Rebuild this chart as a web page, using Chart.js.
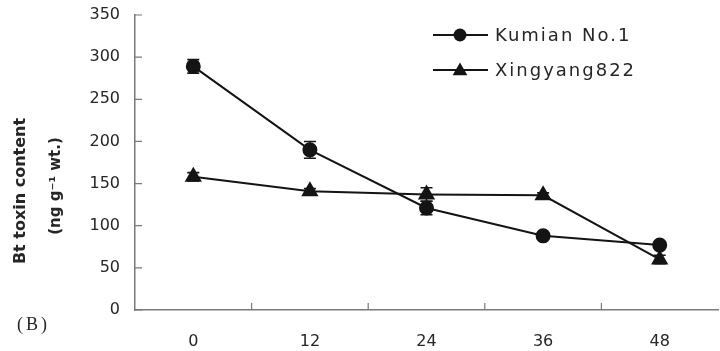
<!DOCTYPE html>
<html>
<head>
<meta charset="utf-8">
<script src="https://cdn.jsdelivr.net/npm/chart.js@4.4.0/dist/chart.umd.min.js"></script>
<style>
  html, body { margin: 0; padding: 0; background: #fff; overflow: hidden; }
  #wrap { position: relative; width: 728px; height: 351px; }
</style>
</head>
<body>
<div id="wrap"><canvas id="chart"></canvas></div>
<script>
// data
const hours = ['0', '12', '24', '36', '48'];
const kumian = [289, 190, 121, 88, 77];
const kumianErr = [8, 10, 8, 3, 3];
const xingyang = [158, 141, 137, 136, 60];
const xingyangErr = [5, 3, 8, 3, 5];
const seriesNames = ['Kumian No.1', 'Xingyang822'];
const yTitle = ['Bt toxin content', '(ng g\u207B\u00B9 wt.)'];
const errors = [kumianErr, xingyangErr];

const ink = '#141414';
const axisGray = '#7a7a7a';
const textGray = '#262626';

// short tick marks that point into the plot
const inwardTicks = {
  id: 'inwardTicks',
  afterDraw(chart) {
    const { ctx, chartArea, scales } = chart;
    ctx.save();
    ctx.strokeStyle = axisGray;
    ctx.lineWidth = 1.2;
    ctx.beginPath();
    scales.y.ticks.forEach(t => {
      const y = scales.y.getPixelForValue(t.value);
      ctx.moveTo(chartArea.left, y);
      ctx.lineTo(chartArea.left + 7, y);
    });
    for (let i = 0; i < hours.length - 1; i++) {
      const x = (scales.x.getPixelForValue(i) + scales.x.getPixelForValue(i + 1)) / 2;
      ctx.moveTo(x, chartArea.bottom);
      ctx.lineTo(x, chartArea.bottom - 7);
    }
    ctx.stroke();
    ctx.restore();
  }
};

const errorBars = {
  id: 'errorBars',
  afterDatasetsDraw(chart) {
    const { ctx, scales } = chart;
    ctx.save();
    ctx.strokeStyle = ink;
    ctx.lineWidth = 1.6;
    chart.data.datasets.forEach((ds, di) => {
      ds.data.forEach((v, i) => {
        const e = errors[di][i];
        const x = scales.x.getPixelForValue(i);
        const yt = scales.y.getPixelForValue(v + e);
        const yb = scales.y.getPixelForValue(v - e);
        ctx.beginPath();
        ctx.moveTo(x, yt); ctx.lineTo(x, yb);
        ctx.moveTo(x - 6, yt); ctx.lineTo(x + 6, yt);
        ctx.moveTo(x - 6, yb); ctx.lineTo(x + 6, yb);
        ctx.stroke();
      });
    });
    ctx.restore();
  }
};

function marker(ctx, style, x, y, r) {
  ctx.beginPath();
  if (style === 'triangle') {
    let rad = 0;
    for (let k = 0; k < 3; k++) {
      const px = x + Math.sin(rad) * r, py = y - Math.cos(rad) * r;
      if (k === 0) ctx.moveTo(px, py); else ctx.lineTo(px, py);
      rad += 2 * Math.PI / 3;
    }
    ctx.closePath();
  } else {
    ctx.arc(x, y, r, 0, Math.PI * 2);
  }
  ctx.fill();
}

// legend sits inside the plot, top right
const insideLegend = {
  id: 'insideLegend',
  afterDraw(chart) {
    const { ctx } = chart;
    ctx.save();
    chart.data.datasets.forEach((ds, i) => {
      const y = 35 + i * 35;
      ctx.strokeStyle = ink;
      ctx.lineWidth = 2;
      ctx.beginPath();
      ctx.moveTo(433, y); ctx.lineTo(488, y);
      ctx.stroke();
      ctx.fillStyle = ink;
      const tri = ds.pointStyle === 'triangle';
      marker(ctx, ds.pointStyle, 460, tri ? y + 1 : y, tri ? 8.5 : 6.5);
      ctx.fillStyle = textGray;
      ctx.font = '18px "DejaVu Sans"';
      ctx.letterSpacing = '2px';
      ctx.textBaseline = 'middle';
      ctx.textAlign = 'left';
      ctx.fillText(ds.label, 495, y + 1);
    });
    ctx.restore();
  }
};

// "(B)" panel tag and the two-line y title
const sideText = {
  id: 'sideText',
  afterDraw(chart) {
    const { ctx } = chart;
    ctx.save();
    ctx.fillStyle = textGray;
    ctx.font = '18px "Liberation Serif"';
    ctx.letterSpacing = '3px';
    ctx.textBaseline = 'middle';
    ctx.textAlign = 'left';
    ctx.fillText('(B)', 17, 325);
    ctx.letterSpacing = '0px';
    ctx.textAlign = 'center';
    ctx.translate(21, 191);
    ctx.rotate(-Math.PI / 2);
    ctx.font = 'bold 16px "DejaVu Sans"';
    ctx.fillText(yTitle[0], 0, 0);
    ctx.rotate(Math.PI / 2);
    ctx.translate(35, -5);
    ctx.rotate(-Math.PI / 2);
    ctx.font = 'bold 15px "DejaVu Sans"';
    ctx.fillText(yTitle[1], 0, 0);
    ctx.restore();
  }
};

new Chart(document.getElementById('chart'), {
  type: 'line',
  data: {
    labels: hours,
    datasets: [
      {
        label: seriesNames[0],
        data: kumian,
        borderColor: ink,
        backgroundColor: ink,
        borderWidth: 2,
        pointStyle: 'circle',
        pointRadius: 6.5,
        pointHoverRadius: 6.5,
        tension: 0
      },
      {
        label: seriesNames[1],
        data: xingyang,
        borderColor: ink,
        backgroundColor: ink,
        borderWidth: 2,
        pointStyle: 'triangle',
        pointRadius: 8,
        pointHoverRadius: 8,
        tension: 0
      }
    ]
  },
  options: {
    responsive: true,
    maintainAspectRatio: false,
    animation: false,
    layout: { padding: { top: 15, right: 0, bottom: 0, left: 0 } },
    plugins: {
      legend: { display: false },
      tooltip: { enabled: false }
    },
    scales: {
      x: {
        offset: true,
        grid: { display: false, drawTicks: false },
        border: { display: true, color: axisGray, width: 1.5 },
        ticks: {
          color: textGray,
          padding: 22,
          font: { family: 'DejaVu Sans', size: 16 }
        },
        afterFit(scale) { scale.height = 41; }
      },
      y: {
        min: 0,
        max: 350,
        grid: { display: false, drawTicks: false },
        border: { display: true, color: axisGray, width: 1.5 },
        ticks: {
          stepSize: 50,
          color: textGray,
          padding: 15,
          font: { family: 'DejaVu Sans', size: 16 }
        },
        afterFit(scale) {
          scale.width = 135;
          // tick padding would otherwise push the plot top down
          scale.paddingTop = 0;
          scale.paddingBottom = 0;
        }
      }
    }
  },
  plugins: [inwardTicks, errorBars, insideLegend, sideText]
});
</script>
</body>
</html>
